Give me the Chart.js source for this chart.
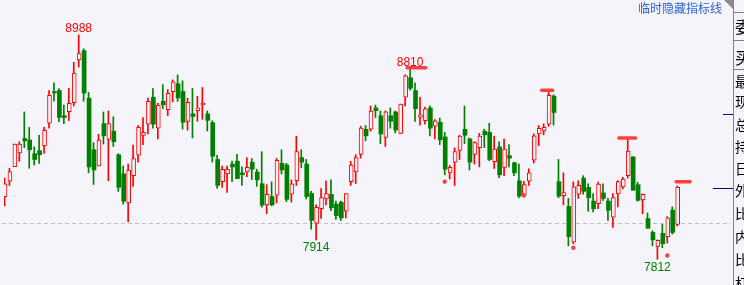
<!DOCTYPE html>
<html><head><meta charset="utf-8">
<style>html,body{margin:0;padding:0;background:#f4f4fa;overflow:hidden}canvas{display:block}</style>
<script src="https://cdn.jsdelivr.net/npm/chart.js@4.4.1/dist/chart.umd.min.js"></script>
</head><body><canvas id="c" width="744" height="285"></canvas>
<script>
// ---- data (one entry per candle, left to right) ----
const opens  = [8140,8221,8298,8369,8445,8437,8365,8381,8408,8525,8691,8696,8564,8586,8632,8856,8905,8656,8386,8301,
8523,8440,8483,8360,8260,8107,8250,8357,8461,8520,8661,8499,8640,8596,8690,8732,8691,8535,8574,8591,
8621,8574,8528,8335,8219,8260,8311,8326,8265,8270,8320,8269,8208,8097,8141,8148,8315,8306,8153,8224,
8345,8311,8157,8002,8077,8128,8152,8101,8111,8064,8219,8270,8362,8493,8494,8605,8564,8450,8564,8584,
8471,8662,8763,8696,8555,8538,8605,8509,8530,8453,8265,8321,8382,8493,8443,8362,8397,8483,8477,8323,
8401,8293,8355,8318,8223,8148,8221,8331,8469,8484,8520,8667,8219,8145,8089,7902,8153,8237,8189,8117,
8104,8160,8117,8033,8155,8191,8250,8349,8203,8123,8026,7953,7880,7948,7931,8070,7995];
const highs  = [8238,8289,8416,8428,8584,8503,8401,8462,8503,8696,8737,8707,8620,8707,8844,8988,8915,8686,8423,8467,
8584,8589,8559,8365,8301,8311,8411,8513,8554,8656,8707,8630,8727,8701,8752,8778,8747,8656,8707,8666,
8712,8589,8538,8357,8301,8301,8326,8362,8296,8345,8340,8284,8376,8203,8218,8340,8386,8315,8228,8457,
8386,8335,8168,8097,8182,8223,8228,8117,8117,8157,8325,8360,8509,8513,8615,8620,8589,8589,8605,8589,
8625,8778,8810,8737,8661,8610,8616,8544,8552,8477,8304,8396,8462,8615,8448,8428,8472,8494,8525,8457,
8428,8442,8413,8321,8311,8221,8286,8469,8513,8522,8690,8674,8335,8265,8131,8218,8224,8250,8208,8157,
8216,8208,8131,8157,8224,8242,8440,8349,8216,8155,8055,7962,7914,7995,8036,8087,8196];
const lows   = [8092,8199,8298,8326,8397,8289,8306,8315,8367,8499,8640,8533,8523,8539,8615,8819,8640,8265,8204,8301,
8416,8224,8403,8168,8101,8009,8194,8321,8413,8469,8499,8443,8601,8565,8637,8640,8494,8489,8448,8535,
8545,8484,8321,8184,8189,8163,8219,8235,8199,8245,8230,8194,8085,8051,8092,8107,8259,8114,8112,8199,
8291,8128,7970,7914,8026,8097,8067,8021,8016,8029,8199,8208,8342,8433,8483,8555,8418,8403,8499,8474,
8471,8615,8698,8535,8515,8520,8459,8443,8413,8255,8233,8199,8335,8418,8280,8311,8296,8397,8328,8288,
8240,8250,8296,8250,8135,8138,8199,8316,8408,8464,8509,8515,8135,8097,7883,7894,8131,8153,8064,8060,
8077,8121,8016,7979,8087,8181,8237,8174,8117,8051,7975,7883,7812,7873,7897,7944,7987];
const closes = [8208,8272,8416,8416,8433,8386,8335,8360,8488,8671,8683,8555,8555,8629,8788,8890,8683,8296,8280,8437,
8459,8523,8428,8189,8116,8279,8340,8503,8477,8640,8520,8620,8621,8681,8742,8657,8530,8635,8560,8605,
8630,8540,8352,8199,8284,8284,8296,8235,8255,8294,8284,8228,8096,8152,8097,8330,8280,8126,8208,8376,
8321,8141,8016,8085,8136,8157,8082,8041,8029,8157,8306,8345,8499,8459,8589,8591,8469,8584,8535,8489,
8625,8773,8708,8601,8569,8600,8499,8538,8438,8284,8294,8376,8457,8462,8321,8423,8457,8464,8335,8389,
8255,8389,8342,8265,8143,8203,8265,8459,8498,8503,8671,8581,8143,8162,7931,8192,8199,8168,8135,8077,
8206,8131,8069,8135,8219,8233,8379,8174,8121,8152,7975,7914,7911,7894,8029,7953,8189];

// extreme-value labels (candle index and which end is labelled)
const extremeIdx  = [15, 82, 63, 132];
const extremeSide = ['high', 'high', 'low', 'low'];
// thick red marker segments (from candle, to candle, price)
const markerStart = [81.4, 108.6, 124.2, 135.8];
const markerEnd   = [85.2, 110.8, 127.6, 138.6];
const markerPrice = [8815, 8698, 8448, 8219];
// red dots
const dotIdx   = [89, 105, 115, 134];
const dotPrice = [8219, 8148, 7873, 7832];
// reference (dashed) price and axis tick prices
const refPrice = 8002;
const axisTickPrice = [8573, 8184];
// right-hand panel captions and hint text
const panelLabels = ['委','买','最','现','总','持','日','外','比','内','比','杠'];
const hintText = '临时隐藏指标线';

// ---- styling ----
const BG = '#f4f4fa', RED = '#ff0000', GREEN = '#008000', MARK = '#ff4040';
const idx = opens.map((_, i) => i);
const isUp = idx.map(i => closes[i] >= opens[i]);

const decor = {
  id: 'decor',
  beforeDraw(chart) {
    const {ctx, width, height} = chart;
    ctx.save();
    ctx.fillStyle = BG; ctx.fillRect(0, 0, width, height);
    const y = Math.round(chart.scales.y.getPixelForValue(refPrice)) + 0.5;
    ctx.strokeStyle = '#c0c0c0'; ctx.lineWidth = 1; ctx.setLineDash([4, 3]);
    ctx.beginPath(); ctx.moveTo(2, y); ctx.lineTo(731, y); ctx.stroke();
    ctx.restore();
  },
  afterDraw(chart) {
    const {ctx} = chart;
    const xs = chart.scales.xw, ys = chart.scales.y;
    ctx.save();
    // extreme labels
    ctx.font = '12px "Liberation Sans", Arial, sans-serif';
    ctx.textAlign = 'center'; ctx.textBaseline = 'alphabetic';
    extremeIdx.forEach((k, j) => {
      const x = xs.getPixelForValue(k);
      if (extremeSide[j] === 'high') {
        ctx.fillStyle = RED;
        ctx.fillText(String(highs[k]), x, ys.getPixelForValue(highs[k]) - 3);
      } else {
        ctx.fillStyle = GREEN;
        ctx.fillText(String(lows[k]), x, ys.getPixelForValue(lows[k]) + 11.5);
      }
    });
    // hint text
    ctx.font = '12px "Noto Sans CJK SC", sans-serif';
    ctx.fillStyle = '#2e64d8'; ctx.textAlign = 'right'; ctx.textBaseline = 'middle';
    ctx.fillText(hintText, 722, 8);
    // right panel
    ctx.strokeStyle = '#808080'; ctx.lineWidth = 1; ctx.setLineDash([]);
    ctx.beginPath(); ctx.moveTo(733.5, 0); ctx.lineTo(733.5, 285);
    [12.5, 40.5, 69.5].forEach(y => { ctx.moveTo(733, y); ctx.lineTo(744, y); });
    ctx.stroke();
    ctx.fillStyle = '#8c8c8c';
    ctx.beginPath(); ctx.moveTo(724, 0); ctx.lineTo(733, 0); ctx.lineTo(733, 9); ctx.closePath(); ctx.fill();
    const rowY = [26.7, 57.5, 82, 102, 124.5, 147, 169, 191, 213.7, 236.7, 259.5, 283];
    ctx.fillStyle = '#000'; ctx.textAlign = 'left'; ctx.textBaseline = 'middle';
    panelLabels.forEach((t, j) => {
      ctx.font = (j < 2 ? '16px' : '14px') + ' "Noto Sans CJK SC", sans-serif';
      ctx.fillText(t, 735, rowY[j]);
    });
    // axis tick marks
    const tickStart = [723, 713];
    ctx.strokeStyle = '#000080';
    axisTickPrice.forEach((p, j) => {
      const y = Math.round(ys.getPixelForValue(p)) + 0.5;
      ctx.beginPath(); ctx.moveTo(tickStart[j], y); ctx.lineTo(733, y); ctx.stroke();
    });
    ctx.restore();
  }
};

new Chart(document.getElementById('c'), {
  type: 'bar',
  data: {
    datasets: [
      {
        label: 'wick', xAxisID: 'xw',
        data: idx.map(i => ({x: i, y: [lows[i], highs[i]]})),
        backgroundColor: idx.map(i => isUp[i] ? RED : GREEN),
        barThickness: 1, grouped: false, order: 3, minBarLength: 1
      },
      {
        label: 'body', xAxisID: 'x',
        data: idx.map(i => ({x: i, y: [Math.min(opens[i], closes[i]), Math.max(opens[i], closes[i])]})),
        backgroundColor: idx.map(i => isUp[i] ? BG : GREEN),
        borderColor: idx.map(i => isUp[i] ? RED : GREEN),
        borderWidth: idx.map(i => isUp[i] ? 1 : 0),
        borderSkipped: false, barThickness: 4, grouped: false, order: 2, minBarLength: 1
      },
      ...markerStart.map((s, j) => ({
        type: 'line', xAxisID: 'xw',
        data: [{x: s, y: markerPrice[j]}, {x: markerEnd[j], y: markerPrice[j]}],
        borderColor: MARK, borderWidth: 3.5, borderCapStyle: 'round',
        pointRadius: 0, order: 1
      })),
      {
        type: 'scatter', xAxisID: 'xw',
        data: dotIdx.map((k, j) => ({x: k, y: dotPrice[j]})),
        pointRadius: 2.2, pointBackgroundColor: MARK, pointBorderWidth: 0, order: 0
      }
    ]
  },
  options: {
    responsive: false, animation: false, events: [], devicePixelRatio: 1,
    layout: {padding: 0},
    plugins: {legend: {display: false}, tooltip: {enabled: false}},
    scales: {
      x:  {type: 'linear', min: -0.2, max: 148.6, display: false, offset: false},
      xw: {type: 'linear', axis: 'x', position: 'bottom', min: -0.1, max: 148.7, display: false, offset: false},
      y:  {type: 'linear', min: 7698.5, max: 9149.4, display: false}
    }
  },
  plugins: [decor]
});
</script>
</body></html>
